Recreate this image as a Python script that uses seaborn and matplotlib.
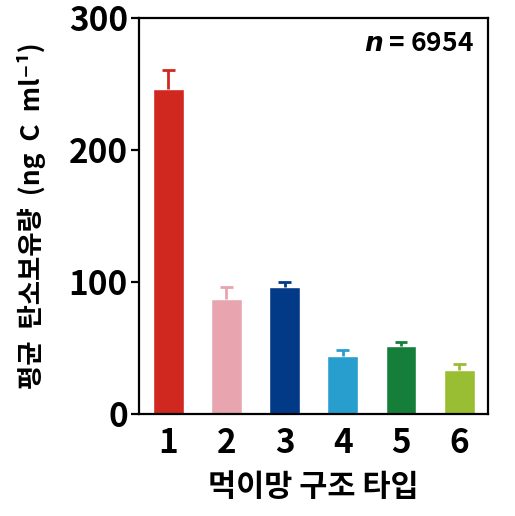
import numpy as np
import pandas as pd
import matplotlib
matplotlib.use("Agg")
import matplotlib.pyplot as plt
import seaborn as sns

# ----------------------------------------
# Data
# ----------------------------------------
types = ["1", "2", "3", "4", "5", "6"]
means = [246, 87, 96, 44, 51.5, 33]
errs = [15, 9.5, 4, 4.5, 3, 4.5]
colors = ["#D0271E", "#E8A5AF", "#033A87", "#289ECF", "#157F3A", "#9ABE33"]

df = pd.DataFrame({"type": types, "mean": means})

# ----------------------------------------
# Style
# ----------------------------------------
sns.set_style("white")
plt.rcParams["font.family"] = ["Noto Sans CJK KR", "DejaVu Sans"]
plt.rcParams["mathtext.fontset"] = "dejavusans"
plt.rcParams["text.color"] = "black"
plt.rcParams["axes.labelcolor"] = "black"
plt.rcParams["xtick.color"] = "black"
plt.rcParams["ytick.color"] = "black"

fig = plt.figure(figsize=(5.15, 5.16), dpi=100)
ax = fig.add_axes([0.27, 0.198, 0.678, 0.767])

sns.barplot(data=df, x="type", y="mean", hue="type", palette=colors,
            legend=False, width=0.53, errorbar=None, ax=ax, saturation=1)

# upward-only error bars in the bar colour
for i, (m, e, c) in enumerate(zip(means, errs, colors)):
    ax.vlines(i, m, m + e, color=c, linewidth=2)
    ax.hlines(m + e, i - 0.11, i + 0.11, color=c, linewidth=2)

ax.set_ylim(0, 300)
ax.set_xlim(-0.5, 5.5)
ax.set_yticks([0, 100, 200, 300])

for s in ax.spines.values():
    s.set_visible(True)
    s.set_color("black")
    s.set_linewidth(1.6)

ax.tick_params(axis="y", left=True, length=6, width=1.6, direction="out",
               labelsize=24, pad=2)
ax.tick_params(axis="x", bottom=False, labelsize=24, pad=6)
for lab in ax.get_xticklabels() + ax.get_yticklabels():
    lab.set_fontweight("bold")

ax.set_xlabel("먹이망 구조 타입", fontsize=22, fontweight="bold", labelpad=8)
ax.set_ylabel("평균  탄소보유량  (ng  C  ml⁻¹)", fontsize=19, fontweight="bold",
              labelpad=16)

ax.text(0.96, 0.935, r"$\bfit{n}$ = 6954", transform=ax.transAxes,
        ha="right", va="center", fontsize=19, fontweight="bold")

fig.savefig("out.png", dpi=100)
